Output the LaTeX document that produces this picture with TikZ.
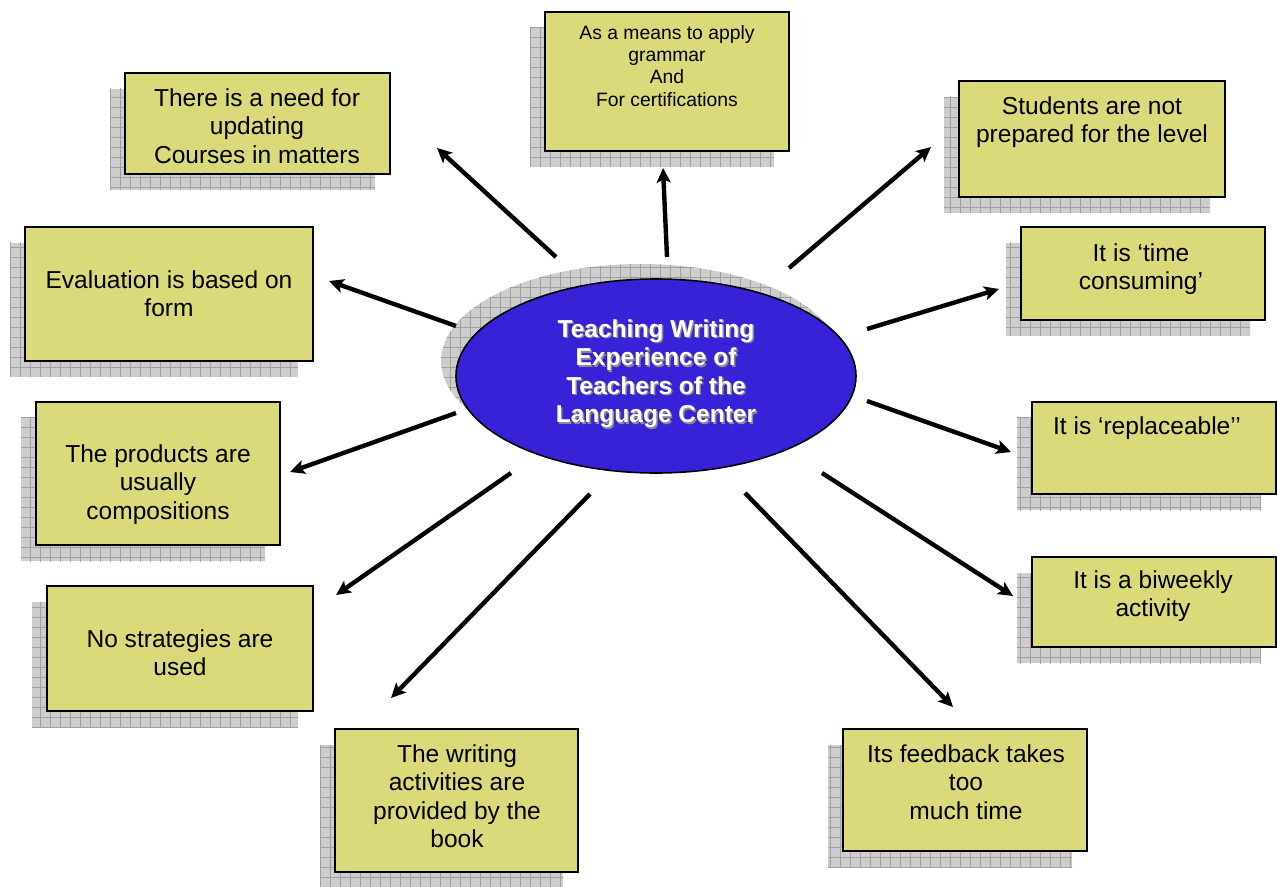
\documentclass[tikz,border=0pt]{standalone}
\usepackage{fontspec}
\setmainfont{Liberation Sans}
\usetikzlibrary{arrows.meta,fit,patterns.meta,shapes.geometric}
\definecolor{boxfill}{RGB}{218,218,122}
\definecolor{ellfill}{RGB}{56,34,216}
\definecolor{shgray}{RGB}{205,205,205}
\definecolor{shline}{RGB}{160,160,160}
\tikzset{
  shadowfill/.style={preaction={fill=shgray},
    preaction={pattern={Lines[angle=0,distance=7.5pt,line width=0.6pt]},pattern color=shline},
    pattern={Lines[angle=90,distance=7.5pt,line width=0.6pt]},pattern color=shline},
  boxstyle/.style={draw=black,line width=1.2pt,fill=boxfill,inner sep=0pt,rectangle},
  txt/.style={align=center,inner sep=0pt,font=\fontsize{18.4pt}{21.4pt}\selectfont},
  smalltxt/.style={align=center,inner sep=0pt,font=\fontsize{14.5pt}{16.7pt}\selectfont},
  conn/.style={line width=3.3pt,-{Stealth[length=11pt,width=10.5pt,inset=2.5pt]}},
}
\newcommand{\tbox}[9]{% #1 name #2 x1 #3 y1 #4 x2 #5 y2 #6 text x #7 text top y #8 style #9 text
  \fill[shadowfill] ({#2-15},{#3+16}) rectangle ({#4-15},{#5+16});
  \node[boxstyle,fit={(#2,#3) (#4,#5)}] (#1) {};
  \node[#8,anchor=north] (#1t) at (#6,#7) {\strut #9};
}
\begin{document}
\begin{tikzpicture}[x=0.75pt,y=-0.75pt]
\useasboundingbox (0,0) rectangle (1277,887);

% boxes
\tbox{need}{125}{73}{390}{174}{257}{86}{txt}{There is a need for\\updating\\Courses in matters}
\tbox{top}{545}{12}{789}{151}{667}{23.4}{smalltxt}{As a means to apply\\grammar\\And\\For certifications}
\tbox{stud}{959}{81}{1225}{197}{1092}{94}{txt}{Students are not\\prepared for the level}
\tbox{eval}{25}{227}{313}{361}{169}{268}{txt}{Evaluation is based on\\form}
\tbox{time}{1021}{227}{1265}{320}{1141}{241}{txt}{It is ‘time\\consuming’}
\tbox{prod}{36}{402}{280}{545}{158}{442}{txt}{The products are\\usually\\compositions}
\tbox{repl}{1032}{402}{1276}{494}{1147}{414}{txt}{It is ‘replaceable’’}
\tbox{nostr}{47}{586}{313}{711}{180}{627}{txt}{No strategies are\\used}
\tbox{biw}{1032}{557}{1276}{647}{1153}{568}{txt}{It is a biweekly\\activity}
\tbox{writ}{335}{729}{578}{872}{457}{742}{txt}{The writing\\activities are\\provided by the\\book}
\tbox{feed}{843}{729}{1087}{851}{966}{742}{txt}{Its feedback takes\\too\\much time}

% central ellipse
\fill[shadowfill] (641,361) ellipse [x radius=200,y radius=97];
\node[ellipse,draw=black,line width=1.2pt,fill=ellfill,minimum width=400*0.75pt,minimum height=194*0.75pt,inner sep=0pt] (center) at (656,376) {};
\node[txt,anchor=north,text=black!45,font=\bfseries\fontsize{18.4pt}{21.4pt}\selectfont] (centertsh) at (657.5,318.5) {\strut Teaching Writing\\Experience of\\Teachers of the\\Language Center};
\node[txt,anchor=north,text=white,font=\bfseries\fontsize{18.4pt}{21.4pt}\selectfont] (centert) at (656,317) {\strut Teaching Writing\\Experience of\\Teachers of the\\Language Center};

% connector end points
\coordinate (s1) at (556,257); \coordinate (e1) at (437,148);
\coordinate (s2) at (667,257); \coordinate (e2) at (663,168);
\coordinate (s3) at (789,268); \coordinate (e3) at (931,147);
\coordinate (s4) at (456,326); \coordinate (e4) at (329,281);
\coordinate (s5) at (867,329); \coordinate (e5) at (999,289);
\coordinate (s6) at (456,413); \coordinate (e6) at (290,472);
\coordinate (s7) at (867,401); \coordinate (e7) at (1011,452);
\coordinate (s8) at (511,473); \coordinate (e8) at (336,595);
\coordinate (s9) at (822,473); \coordinate (e9) at (1013,596);
\coordinate (s10) at (590,494); \coordinate (e10) at (391,698);
\coordinate (s11) at (745,493); \coordinate (e11) at (953,707);

\foreach \i in {1,...,11}{\draw[conn] (s\i) -- (e\i);}
\end{tikzpicture}
\end{document}
